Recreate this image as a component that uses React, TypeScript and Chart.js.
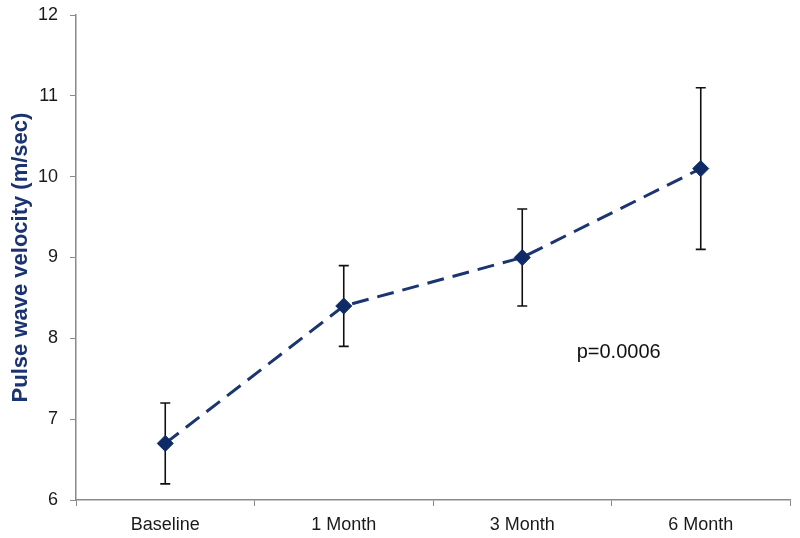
import React, { useEffect, useRef } from "react";
import { Chart, registerables } from "chart.js";

Chart.register(...registerables);

const categories = ["Baseline", "1 Month", "3 Month", "6 Month"];
const meanValues = [6.7, 8.4, 9.0, 10.1];
const errorLow = [6.2, 7.9, 8.4, 9.1];
const errorHigh = [7.2, 8.9, 9.6, 11.1];
const yTicks = [6, 7, 8, 9, 10, 11, 12];
const annotationText = "p=0.0006";
const annotationPos = { index: 2.54, value: 7.83 };

const FONT = "'Liberation Sans', Arial, sans-serif";

const errorBarPlugin = {
  id: "errorBars",
  beforeDatasetsDraw(chart: any) {
    const { ctx, scales } = chart;
    const x = scales.x;
    const y = scales.y;
    ctx.save();
    ctx.strokeStyle = "#111111";
    ctx.lineWidth = 1.6;
    const cap = 5;
    categories.forEach((_, i) => {
      const px = x.getPixelForValue(i);
      const lo = y.getPixelForValue(errorLow[i]);
      const hi = y.getPixelForValue(errorHigh[i]);
      ctx.beginPath();
      ctx.moveTo(px, lo);
      ctx.lineTo(px, hi);
      ctx.moveTo(px - cap, lo);
      ctx.lineTo(px + cap, lo);
      ctx.moveTo(px - cap, hi);
      ctx.lineTo(px + cap, hi);
      ctx.stroke();
    });
    ctx.restore();
  },
};

const annotationPlugin = {
  id: "pAnnotation",
  afterDraw(chart: any) {
    const { ctx, scales } = chart;
    const x = scales.x;
    const y = scales.y;
    const i0 = Math.floor(annotationPos.index);
    const frac = annotationPos.index - i0;
    const px =
      x.getPixelForValue(i0) +
      frac * (x.getPixelForValue(i0 + 1) - x.getPixelForValue(i0));
    const py = y.getPixelForValue(annotationPos.value);
    ctx.save();
    ctx.font = `20px ${FONT}`;
    ctx.fillStyle = "#111111";
    ctx.textAlign = "center";
    ctx.textBaseline = "middle";
    ctx.fillText(annotationText, px, py);
    ctx.restore();
  },
};

export default function App() {
  const canvasRef = useRef<HTMLCanvasElement | null>(null);

  useEffect(() => {
    if (!canvasRef.current) return;
    const chart = new Chart(canvasRef.current, {
      type: "line",
      data: {
        labels: categories,
        datasets: [
          {
            data: meanValues,
            borderColor: "#1a3570",
            backgroundColor: "#0f2a66",
            borderWidth: 3,
            borderDash: [17, 9],
            pointStyle: "rectRot",
            pointRadius: 8,
            pointBackgroundColor: "#0f2a66",
            pointBorderColor: "#0f2a66",
            pointBorderWidth: 1,
            tension: 0,
            fill: false,
          },
        ],
      },
      options: {
        animation: false,
        responsive: false,
        maintainAspectRatio: false,
        layout: { padding: { left: 0, right: 10, top: 0, bottom: 0 } },
        plugins: {
          legend: { display: false },
          tooltip: { enabled: false },
        },
        scales: {
          x: {
            type: "category",
            offset: true,
            afterFit: (scale: any) => {
              scale.height = 38;
            },
            grid: {
              offset: true,
              drawOnChartArea: false,
              drawTicks: true,
              tickLength: 6,
              color: "#8a8a8a",
            },
            border: { color: "#8a8a8a", width: 1.5 },
            ticks: {
              color: "#1a1a1a",
              font: { family: FONT, size: 18 },
              padding: 8,
            },
          },
          y: {
            min: 6,
            max: 12,
            afterFit: (scale: any) => {
              scale.width = 76;
              scale.paddingTop = 15;
              scale.paddingBottom = 0;
            },
            afterBuildTicks: (scale: any) => {
              scale.ticks = yTicks.map((v) => ({ value: v }));
            },
            grid: {
              drawOnChartArea: false,
              drawTicks: true,
              tickLength: 6,
              color: "#8a8a8a",
            },
            border: { color: "#8a8a8a", width: 1.5 },
            ticks: {
              color: "#1a1a1a",
              font: { family: FONT, size: 18 },
              padding: 12,
            },
            title: {
              display: true,
              text: "Pulse wave velocity (m/sec)",
              color: "#1b3370",
              font: { family: FONT, size: 22, weight: "bold" },
              padding: { top: 8, bottom: 0 },
            },
          },
        },
      },
      plugins: [errorBarPlugin, annotationPlugin],
    });
    return () => chart.destroy();
  }, []);

  return (
    <div style={{ position: "fixed", left: 0, top: 0, width: 800, height: 538, background: "#ffffff" }}>
      <canvas ref={canvasRef} width={800} height={538} style={{ width: 800, height: 538 }} />
    </div>
  );
}
